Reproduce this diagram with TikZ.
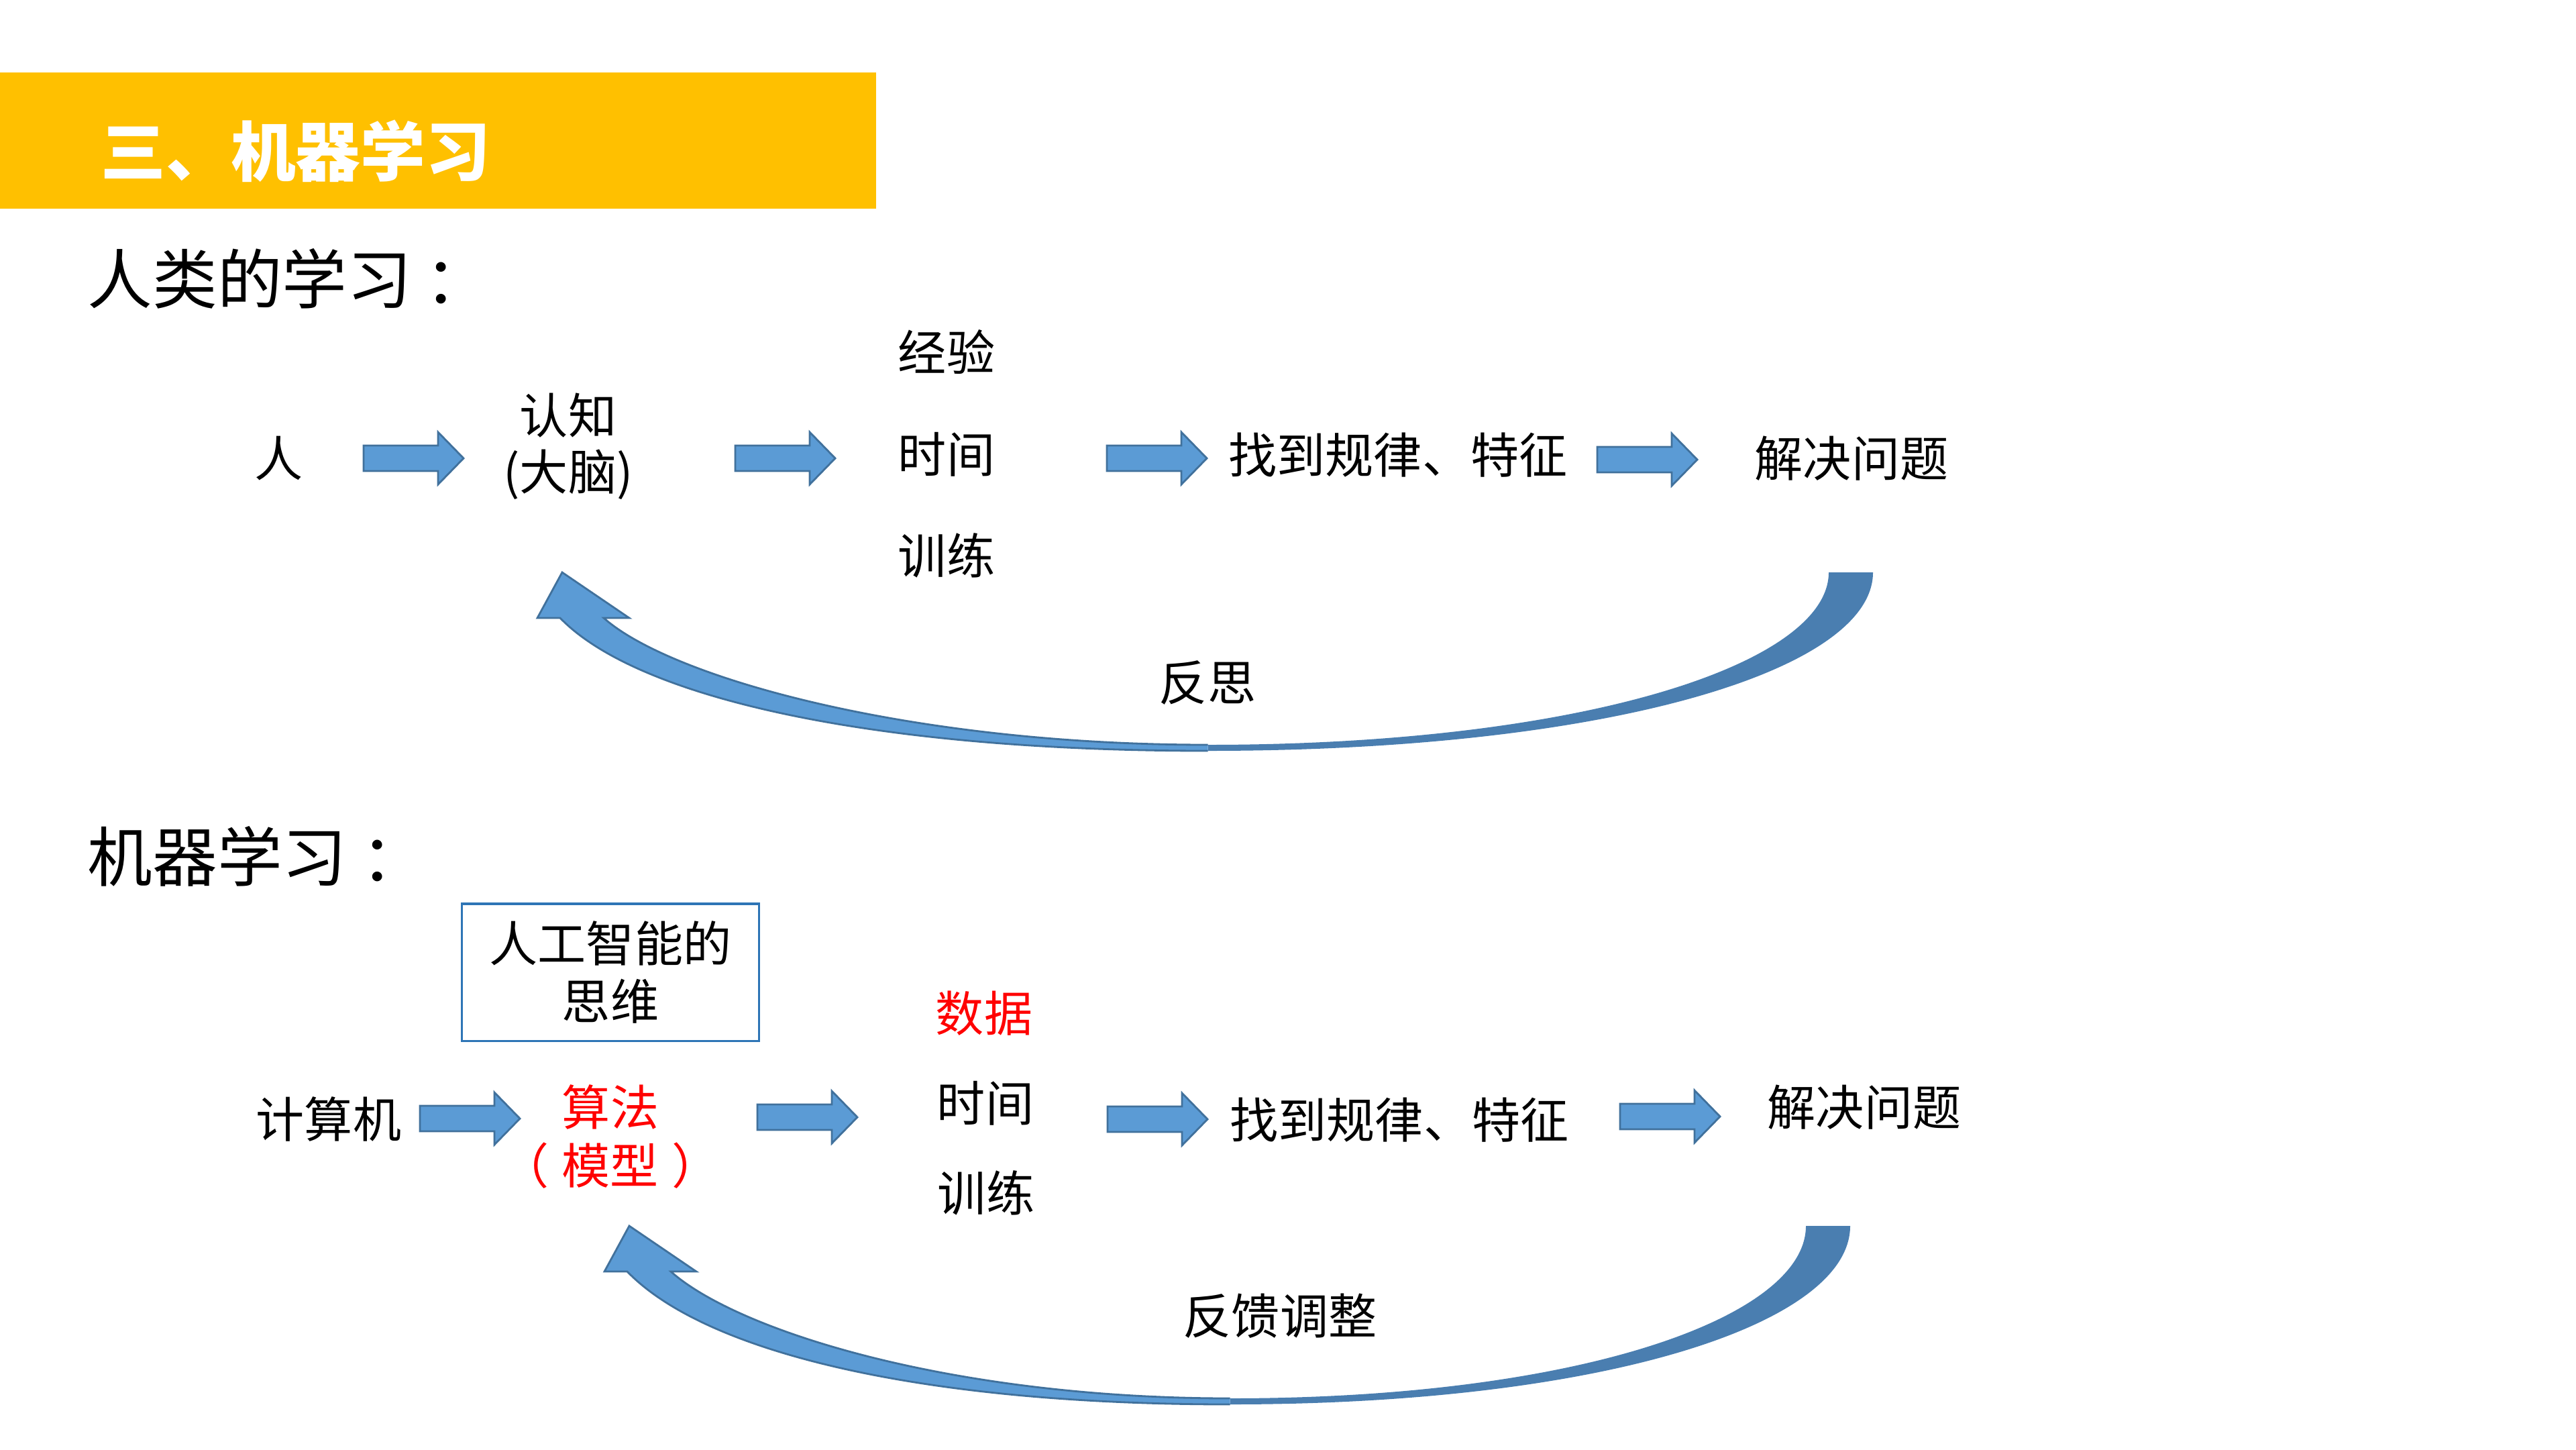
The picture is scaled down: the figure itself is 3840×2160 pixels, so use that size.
\documentclass[tikz,border=0pt]{standalone}
\usepackage{fontspec}
\setmainfont{Noto Sans CJK SC}
\definecolor{barY}{HTML}{FFC000}
\definecolor{arrFill}{HTML}{5B9BD5}
\definecolor{arrLine}{HTML}{41719C}
\definecolor{arrDark}{HTML}{4A7EB0}
\definecolor{boxLine}{HTML}{2E75B6}
\definecolor{txtRed}{HTML}{FF0000}
\newcommand\CurvedUpArr[3]{%
  \pgfmathsetmacro\caL{#1}%
  \pgfmathsetmacro\caR{#2}%
  \pgfmathsetmacro\caT{#3}%
  \pgfmathsetmacro\caM{(\caL+\caR)/2-13}%
  \pgfmathsetmacro\caBo{\caT+266}%
  \pgfmathsetmacro\caBi{\caT+257}%
  \pgfmathsetmacro\caHb{\caT+68}%
  \pgfmathsetmacro\caRa{\caM+0.56*(\caR-\caM)}%
  \pgfmathsetmacro\caRb{\caM+0.6*(\caR-\caM)}%
  \pgfmathsetmacro\caRi{\caR-66}%
  \pgfmathsetmacro\caRiy{\caT+137}%
  \pgfmathsetmacro\caRoy{\caT+147}%
  \pgfmathsetmacro\caLa{\caM-0.52*(\caM-\caL)}%
  \pgfmathsetmacro\caLb{\caM-0.46*(\caM-\caL)}%
  \pgfmathsetmacro\caLo{\caL+115}%
  \pgfmathsetmacro\caLoy{\caT+187}%
  \pgfmathsetmacro\caLi{\caL+165}%
  \pgfmathsetmacro\caLiy{\caT+157}%
  \pgfmathsetmacro\caHl{\caL-34}%
  \pgfmathsetmacro\caHt{\caL+3}%
  \pgfmathsetmacro\caHr{\caL+103}%
  \pgfmathsetmacro\caSr{\caL+65}%
  \fill[arrDark] (\caM,\caBi) .. controls (\caRa,\caBi) and (\caRi,\caRiy) .. (\caRi,\caT)
     -- (\caR,\caT) .. controls (\caR,\caRoy) and (\caRb,\caBo) .. (\caM,\caBo) -- cycle;
  \fill[arrFill] (\caM,\caBo) .. controls (\caLa,\caBo) and (\caLo,\caLoy) .. (\caL,\caHb)
     -- (\caHl,\caHb) -- (\caHt,\caT) -- (\caHr,\caHb) -- (\caSr,\caHb)
     .. controls (\caLi,\caLiy) and (\caLb,\caBi) .. (\caM,\caBi) -- cycle;
  \draw[arrLine, line width=0.8pt, line join=miter] (\caM,\caBo) .. controls (\caLa,\caBo) and (\caLo,\caLoy) .. (\caL,\caHb)
     -- (\caHl,\caHb) -- (\caHt,\caT) -- (\caHr,\caHb) -- (\caSr,\caHb)
     .. controls (\caLi,\caLiy) and (\caLb,\caBi) .. (\caM,\caBi);
}
\begin{document}
\begin{tikzpicture}[x=0.01cm, y=-0.01cm,
  body/.style={font=\fontsize{20.5}{24}\selectfont, inner sep=0pt, text=black},
  redbody/.style={body, text=txtRed},
  headtxt/.style={font=\fontsize{27.5}{32}\selectfont, inner sep=0pt, anchor=west},
  titletxt/.style={font=\fontsize{27.5}{32}\selectfont\bfseries, text=white, inner sep=0pt, anchor=west},
  arrowshape/.style={fill=arrFill, draw=arrLine, line width=0.8pt},
  blockarrow/.pic={\filldraw[arrowshape] (0,-19) -- (111,-19) -- (111,-39) -- (149,0) -- (111,39) -- (111,19) -- (0,19) -- cycle;}
]
\useasboundingbox (0,0) rectangle (3840,2160);
\fill[barY] (0,108) rectangle (1306,311);
\node[titletxt] (title) at (150,225) {三、机器学习};

% ---- human learning ----
\node[headtxt] (h1) at (130,415) {人类的学习\hspace{5.5pt}：};
\node[body] (ren) at (416,683) {人};
\node[body, align=center, font=\fontsize{20.5}{24}\selectfont] (renzhi) at (847,665) {认知\\(大脑)};
\node[body] (jingyan) at (1411,525) {经验};
\node[body] (shijian1) at (1411,677) {时间};
\node[body] (xunlian1) at (1411,828) {训练};
\node[body] (guilv1) at (2084,678) {找到规律、特征};
\node[body] (jiejue1) at (2760,683) {解决问题};
\node[body] (fansi) at (1800,1018) {反思};

\pic at (542,683) {blockarrow};
\pic at (1096,683) {blockarrow};
\pic at (1650,683) {blockarrow};
\pic at (2381,685) {blockarrow};

\CurvedUpArr{835}{2792}{853}

% ---- machine learning ----
\node[headtxt] (h2) at (130,1276) {机器学习\hspace{6pt}：};
\node[body, align=center, draw=boxLine, line width=0.9pt, minimum width=4.42cm, minimum height=2.04cm, font=\fontsize{20.5}{24.7}\selectfont] (ai) at (910,1449) {人工智能的\\思维};
\node[body] (jisuanji) at (490,1668) {计算机};
\node[redbody, align=center, font=\fontsize{20.5}{25}\selectfont] (suanfa) at (910,1694) {算法\\（\hspace{5.5pt}模型\hspace{5.5pt}）};
\node[redbody] (shuju) at (1467,1510) {数据};
\node[body] (shijian2) at (1469,1644) {时间};
\node[body] (xunlian2) at (1470,1778) {训练};
\node[body] (guilv2) at (2086,1669) {找到规律、特征};
\node[body] (jiejue2) at (2779,1650) {解决问题};
\node[body] (fankui) at (1908,1961) {反馈调整};

\pic at (626,1667) {blockarrow};
\pic at (1129,1665) {blockarrow};
\pic at (1651,1668) {blockarrow};
\pic at (2415,1664) {blockarrow};

\CurvedUpArr{935}{2758}{1827}
\end{tikzpicture}
\end{document}
